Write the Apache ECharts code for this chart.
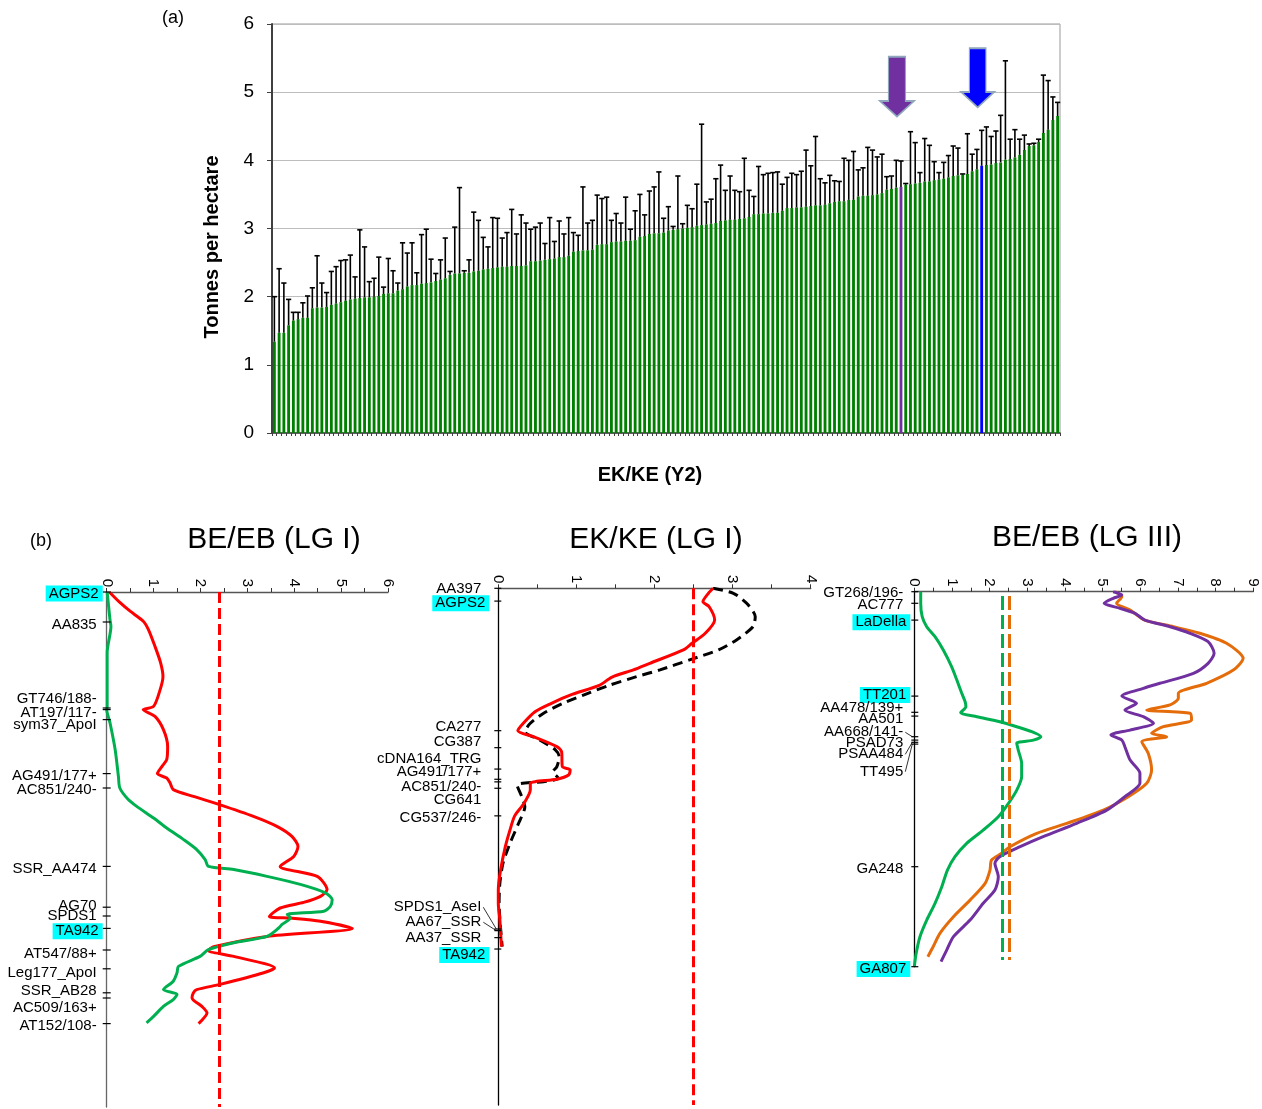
<!DOCTYPE html>
<html>
<head>
<meta charset="utf-8">
<style>
  html, body { margin: 0; padding: 0; background: #fff; }
  #chart { width: 1262px; height: 1109px; }
</style>
<script src="https://cdn.jsdelivr.net/npm/echarts@6/dist/echarts.min.js"></script>
</head>
<body>
<div id="chart"></div>
<script>
const FONT = "'Liberation Sans', Arial, sans-serif";

// ---- (a) EK/KE (Y2) yield, lines sorted by mean ----
const yieldMean = [
  1.34, 1.47, 1.47, 1.58, 1.65, 1.67, 1.69, 1.69, 1.83, 1.84, 1.84, 1.85, 1.88, 1.90, 1.92, 1.94, 1.96,
  1.97, 1.98, 1.99, 1.99, 2.00, 2.01, 2.04, 2.05, 2.05, 2.09, 2.11, 2.15, 2.17, 2.17, 2.19, 2.20, 2.21,
  2.23, 2.25, 2.27, 2.32, 2.34, 2.34, 2.35, 2.35, 2.37, 2.38, 2.40, 2.41, 2.42, 2.43, 2.44, 2.44, 2.45,
  2.45, 2.45, 2.46, 2.52, 2.52, 2.53, 2.54, 2.55, 2.56, 2.58, 2.58, 2.60, 2.66, 2.67, 2.68, 2.68, 2.69,
  2.76, 2.77, 2.77, 2.80, 2.81, 2.81, 2.82, 2.82, 2.83, 2.88, 2.89, 2.92, 2.93, 2.93, 2.94, 2.97, 2.98,
  2.99, 3.00, 3.01, 3.02, 3.04, 3.05, 3.06, 3.07, 3.08, 3.11, 3.12, 3.13, 3.13, 3.14, 3.15, 3.17,
  3.21, 3.21, 3.22, 3.22, 3.23, 3.23, 3.26, 3.30, 3.30, 3.31, 3.31, 3.32, 3.33, 3.34, 3.34, 3.35, 3.37,
  3.39, 3.40, 3.40, 3.42, 3.42, 3.47, 3.48, 3.48, 3.49, 3.50, 3.52, 3.57, 3.58, 3.60, 3.61,
  3.64, 3.65, 3.66, 3.67, 3.69, 3.69, 3.71, 3.72, 3.73, 3.75, 3.77, 3.78, 3.79, 3.80, 3.84, 3.87, 3.92,
  3.93, 3.94, 3.96, 3.97, 4.01, 4.02, 4.04, 4.08, 4.15, 4.21, 4.22, 4.27, 4.40, 4.45, 4.59, 4.65
];
const yieldUpper = [
  2.00, 2.41, 2.20, 1.96, 1.77, 1.77, 1.91, 2.01, 2.13, 2.60, 2.20, 2.06, 2.37, 2.44, 2.53, 2.54, 2.61,
  2.29, 2.98, 2.73, 2.22, 2.27, 2.58, 2.14, 2.56, 2.38, 2.20, 2.79, 2.64, 2.79, 2.35, 2.91, 2.99, 2.55,
  2.34, 2.54, 2.86, 2.37, 3.02, 3.60, 2.38, 2.54, 3.24, 3.12, 2.87, 2.73, 3.16, 3.15, 2.86, 2.94, 3.28,
  2.92, 3.20, 3.08, 2.99, 3.02, 3.08, 2.78, 3.16, 2.81, 3.11, 2.92, 3.16, 2.94, 2.90, 3.61, 3.08, 3.12,
  3.49, 3.44, 3.46, 3.12, 3.22, 3.08, 3.46, 2.99, 3.26, 3.50, 3.20, 3.55, 3.61, 3.83, 3.15, 3.32, 3.03,
  3.77, 3.07, 3.34, 3.29, 3.65, 4.53, 3.39, 3.43, 3.73, 3.93, 3.56, 3.77, 3.56, 3.54, 4.03, 3.56,
  3.47, 3.91, 3.79, 3.81, 3.82, 3.83, 3.65, 3.75, 3.81, 3.79, 3.84, 4.15, 3.92, 4.35, 3.73, 3.67, 3.78,
  3.70, 3.69, 4.03, 4.00, 4.13, 3.86, 3.89, 4.19, 4.15, 4.05, 4.09, 3.76, 3.77, 4.00,
  3.99, 3.66, 4.42, 4.26, 3.82, 4.32, 4.22, 3.98, 3.82, 3.97, 4.07, 4.21, 4.18, 3.80, 4.39, 4.09, 4.16,
  4.44, 4.49, 4.35, 4.43, 4.66, 5.46, 4.31, 4.45, 4.31, 4.37, 4.24, 4.25, 4.31, 5.25, 5.17, 4.93, 4.85
];
const purpleLine = 132;
const blueLine = 149;
const lineNames = yieldMean.map((v, i) => 'L' + (i + 1));

// ---- (b) BE/EB (LG I) ----
const lg1Markers = ['AGPS2', 'AA835', 'GT746/188-', 'AT197/117-', 'sym37_ApoI', 'AG491/177+', 'AC851/240-',
  'SSR_AA474', 'AG70', 'SPDS1', 'TA942', 'AT547/88+', 'Leg177_ApoI', 'SSR_AB28', 'AC509/163+', 'AT152/108-'];
const lg1MarkerPos = [0, 7.5, 29.0, 29.4, 31.9, 45.4, 49.0, 68.6, 78.8, 81.0, 84.1, 89.5, 94.2, 100.2, 101.5, 107.9];
const lg1LabelAt = [0.4, 8.1, 26.7, 30.1, 33.2, 46.0, 49.4, 69.2, 78.5, 81.0, 84.8, 90.4, 95.2, 99.8, 103.9, 108.5];
const lg1RedPos = [0.05, 2.6, 4.8, 7.3, 9.4, 13.6, 17.7, 21.1, 24.4, 28.6, 29.4, 31.1, 34.4, 38.6, 41.9, 43.6,
  45.4, 46.5, 47.7, 49.4, 51.1, 53.1, 56.1, 58.6, 61.1, 63.6, 66.1, 68.6, 71.1, 74.4, 76.1, 77.6, 79.0, 81.1,
  81.5, 82.3, 84.1, 86.1, 88.7, 89.6, 91.1, 94.0, 95.2, 98.1, 99.4, 100.2, 101.5, 103.6, 105.2, 107.9];
const lg1RedLod = [0.06, 0.28, 0.5, 0.78, 0.89, 1.03, 1.15, 1.2, 1.14, 1.0, 0.78, 1.03, 1.21, 1.3, 1.28, 1.18,
  1.08, 1.28, 1.35, 1.42, 1.85, 2.39, 3.13, 3.63, 3.95, 4.08, 3.99, 3.70, 4.49, 4.70, 4.56, 4.2, 3.70, 3.47,
  3.92, 4.56, 5.24, 3.42, 2.28, 2.17, 2.71, 3.58, 3.35, 2.42, 1.92, 1.85, 1.82, 2.03, 2.14, 1.96];
const lg1GreenPos = [0.05, 6.9, 8.6, 15.1, 28.6, 29.4, 32.7, 39.4, 46.1, 49.0, 51.9, 53.6, 56.5, 59.0, 61.9,
  64.4, 66.9, 68.6, 69.4, 71.1, 73.1, 75.2, 76.9, 78.6, 79.8, 80.6, 81.5, 83.1, 84.0, 86.1, 87.7, 89.4, 91.1,
  93.6, 95.2, 97.3, 99.4, 100.6, 101.9, 103.6, 106.1, 107.7];
const lg1GreenLod = [0.01, 0.07, 0.09, 0.01, 0.01, 0.0, 0.07, 0.18, 0.25, 0.28, 0.46, 0.64, 1.0, 1.28, 1.64,
  1.92, 2.10, 2.17, 2.71, 3.42, 4.13, 4.66, 4.81, 4.77, 4.63, 3.85, 3.92, 3.74, 3.67, 3.42, 2.71, 2.17, 1.99,
  1.53, 1.50, 1.42, 1.21, 1.50, 1.42, 1.21, 1.0, 0.85];
const lg1Threshold = 2.4;

// ---- (b) EK/KE (LG I) ----
const lg1bMarkers = ['AA397', 'AGPS2', 'CA277', 'CG387', 'cDNA164_TRG', 'AG491/177+', 'AC851/240-', 'CG641',
  'CG537/246-', 'SPDS1_AseI', 'AA67_SSR', 'AA37_SSR', 'TA942'];
const lg1bMarkerPos = [0, 3.2, 35.6, 39.85, 45.2, 47.75, 48.4, 50.0, 56.9, 85.2, 85.6, 87.35, 90.2];
const lg1bLabelAt = [0.25, 3.75, 34.6, 38.35, 42.7, 46.0, 49.6, 52.9, 57.5, 79.75, 83.5, 87.5, 91.7];
const lg1bRedPos = [0, 1.25, 3.35, 4.6, 7.9, 11.25, 13.75, 15.4, 18.75, 20.4, 22.25, 24.2, 26.7, 28.75, 30.85,
  33.75, 35.6, 37.1, 39.6, 40.85, 44.6, 45.4, 46.7, 47.75, 48.75, 50.4, 53.75, 56.9, 60.4, 64.6, 70.4, 75.4,
  78.75, 82.9, 89.6];
const lg1bRedLod = [2.75, 2.69, 2.62, 2.70, 2.77, 2.65, 2.48, 2.37, 1.94, 1.73, 1.45, 1.30, 0.92, 0.68, 0.47,
  0.32, 0.25, 0.45, 0.75, 0.81, 0.82, 0.92, 0.90, 0.75, 0.41, 0.41, 0.33, 0.21, 0.15, 0.09, 0.03, 0.0, 0.0,
  0.02, 0.04];
const lg1bBlackPos = [0, 1.25, 3.75, 7.1, 9.6, 12.9, 15.4, 17.9, 20.4, 22.1, 24.2, 26.7, 28.75, 31.25, 33.75,
  35.85, 37.9, 40.4, 42.1, 44.6, 45.85, 47.5, 48.35, 49.2, 52.1, 54.6, 58.75, 63.75, 68.75, 73.75, 78.75, 89.6];
const lg1bBlackLod = [2.75, 3.01, 3.18, 3.29, 3.26, 3.05, 2.82, 2.45, 2.07, 1.77, 1.43, 1.09, 0.83, 0.58, 0.41,
  0.34, 0.53, 0.73, 0.78, 0.75, 0.70, 0.77, 0.58, 0.24, 0.30, 0.34, 0.26, 0.15, 0.06, 0.02, 0.01, 0.05];
const lg1bThreshold = 2.49;

// ---- (b) BE/EB (LG III) ----
const lg3Markers = ['GT268/196-', 'AC777', 'LaDella', 'TT201', 'AA478/139+', 'AA501', 'AA668/141-', 'PSAD73',
  'PSAA484', 'TT495', 'GA248', 'GA807'];
const lg3MarkerPos = [0, 2.9, 7.1, 26.1, 30.15, 31.1, 36.25, 37.1, 37.65, 38.1, 68.75, 93.75];
const lg3LabelAt = [0.25, 3.3, 7.65, 25.8, 29.0, 31.9, 35.15, 37.75, 40.65, 45.0, 69.3, 94.3];
const lg3GreenPos = [0, 2.9, 6.25, 8.75, 11.25, 14.6, 18.75, 22.1, 25.4, 27.5, 28.75, 30.25, 31.25, 32.5, 33.75,
  35.0, 36.25, 37.1, 37.9, 39.6, 42.9, 46.25, 49.6, 52.9, 56.25, 59.6, 62.9, 66.25, 69.6, 73.75, 77.9, 82.1,
  86.25, 90.4, 93.75];
const lg3GreenLod = [0.17, 0.17, 0.21, 0.33, 0.55, 0.77, 0.99, 1.13, 1.26, 1.35, 1.37, 1.23, 1.66, 2.27, 2.72,
  3.12, 3.36, 3.16, 2.72, 2.76, 2.85, 2.85, 2.72, 2.50, 2.23, 1.83, 1.39, 1.08, 0.88, 0.73, 0.55, 0.33, 0.15,
  0.05, 0.0];
const lg3PurplePos = [0, 0.8, 1.65, 2.9, 4.15, 5.4, 7.1, 8.75, 10.4, 12.5, 15.4, 17.9, 20.4, 22.9, 24.15, 26.1,
  27.9, 29.6, 31.25, 32.9, 34.6, 35.8, 37.1, 38.75, 42.1, 45.4, 47.9, 51.25, 54.6, 57.9, 61.25, 63.75, 66.25,
  67.9, 71.25, 74.6, 77.9, 82.1, 86.25, 89.6, 92.5];
const lg3PurpleLod = [5.28, 5.51, 5.28, 5.04, 5.46, 5.86, 6.12, 6.79, 7.32, 7.80, 7.96, 7.80, 7.41, 6.52, 6.08,
  5.51, 5.90, 5.59, 6.08, 6.35, 5.73, 5.22, 5.51, 5.59, 5.73, 5.99, 5.99, 5.59, 5.11, 4.31, 3.42, 2.81, 2.27,
  2.14, 2.23, 2.14, 1.83, 1.48, 1.04, 0.86, 0.71];
const lg3OrangePos = [0, 1.25, 2.9, 4.6, 7.1, 8.75, 10.4, 12.9, 16.65, 19.6, 22.9, 25.4, 26.65, 28.3, 29.6,
  30.4, 32.1, 33.75, 35.4, 36.25, 37.5, 40.4, 44.6, 47.9, 51.25, 54.6, 57.9, 60.4, 63.75, 65.4, 67.1, 69.6,
  72.9, 77.1, 81.25, 85.4, 88.75, 91.25];
const lg3OrangeLod = [5.33, 5.51, 5.37, 5.73, 6.12, 6.88, 7.58, 8.29, 8.73, 8.47, 7.76, 7.01, 7.01, 6.79, 6.17,
  7.32, 7.36, 6.61, 6.30, 6.70, 6.04, 6.21, 6.30, 6.17, 5.68, 5.02, 4.05, 3.25, 2.54, 2.32, 2.05, 2.01, 1.88,
  1.48, 1.04, 0.68, 0.50, 0.36];
const lg3ThresholdGreen = 2.34;
const lg3ThresholdOrange = 2.52;

const highlighted = ['AGPS2', 'TA942', 'LaDella', 'TT201', 'GA807'];

const ARROW = 'path://M25,0L75,0L75,74L100,74L50,100L0,74L25,74Z';

function errorBars(params, api) {
  const base = api.coord([api.value(0), api.value(1)]);
  const top = api.coord([api.value(0), api.value(2)]);
  const s = { stroke: '#000', lineWidth: 1.6 };
  return {
    type: 'group',
    children: [
      { type: 'line', shape: { x1: base[0], y1: base[1], x2: top[0], y2: top[1] }, style: s },
      { type: 'line', shape: { x1: top[0] - 2.6, y1: top[1], x2: top[0] + 2.6, y2: top[1] }, style: s }
    ]
  };
}

function markerSeries(idx, names, pos, labelAt, opt) {
  return {
    type: 'custom',
    xAxisIndex: idx,
    yAxisIndex: idx,
    silent: true,
    z: 5,
    data: pos.map((p, i) => [0, p, labelAt[i], i]),
    encode: { x: 0, y: 1 },
    renderItem(params, api) {
      const i = api.value(3);
      const t = api.coord([0, api.value(1)]);
      const l = api.coord([0, api.value(2)]);
      const lx = t[0] - opt.gap;
      const hl = highlighted.includes(names[i]);
      const children = [
        { type: 'line', shape: { x1: t[0] - opt.tl, y1: t[1], x2: t[0] + opt.tr, y2: t[1] },
          style: { stroke: '#000', lineWidth: 1.2 } },
        { type: 'text', x: hl ? lx + opt.hlShift : lx, y: l[1],
          style: { text: names[i], font: '15px ' + FONT, fill: '#000', align: 'right', verticalAlign: 'middle',
                   backgroundColor: hl ? '#00FFFF' : 'transparent', padding: hl ? [1, 4, 0, 3] : 0 } }
      ];
      if (opt.leaders.includes(names[i])) {
        children.push({ type: 'line', shape: { x1: lx + 2, y1: l[1], x2: t[0] - 2, y2: t[1] },
          style: { stroke: '#000', lineWidth: 0.8 } });
      }
      return { type: 'group', children };
    }
  };
}

function curve(idx, pos, lod, color, dash, threshold) {
  const s = {
    type: 'line',
    xAxisIndex: idx,
    yAxisIndex: idx,
    data: pos.map((p, i) => [lod[i], p]),
    showSymbol: false,
    smooth: 0.25,
    silent: true,
    z: 3,
    lineStyle: { color: color, width: 3, type: dash ? [10, 6] : 'solid' }
  };
  if (threshold) {
    s.markLine = {
      silent: true,
      symbol: 'none',
      label: { show: false },
      lineStyle: { color: threshold.color, width: 3, type: threshold.dash },
      data: [[{ coord: [threshold.value, threshold.from] }, { coord: [threshold.value, threshold.to] }]]
    };
  }
  return s;
}

function lodAxis(idx, max) {
  return {
    type: 'value', gridIndex: idx, position: 'top', min: 0, max: max, interval: 1,
    axisLine: { show: true, lineStyle: { color: '#555', width: 1.4 } },
    axisTick: { show: true, length: 4, lineStyle: { color: '#333' } },
    minorTick: { show: true, splitNumber: 2, length: 4, lineStyle: { color: '#333' } },
    splitLine: { show: false },
    axisLabel: { rotate: -90, margin: 5, fontSize: 15, fontFamily: FONT, color: '#000' }
  };
}

function posAxis(idx, max, color) {
  return {
    type: 'value', gridIndex: idx, inverse: true, min: 0, max: max,
    axisLine: { show: true, onZero: false, lineStyle: { color: color, width: 1.3 } },
    axisTick: { show: false },
    axisLabel: { show: false },
    splitLine: { show: false }
  };
}

function caption(text, x, y, font, rotation) {
  return {
    type: 'text', x: x, y: y, rotation: rotation || 0,
    style: { text: text, font: font + ' ' + FONT, fill: '#000', align: 'center', verticalAlign: 'middle' }
  };
}

const chart = echarts.init(document.getElementById('chart'));

chart.setOption({
  animation: false,
  backgroundColor: '#fff',
  grid: [
    { left: 272, top: 24, width: 788, height: 409, show: true, borderColor: '#999', borderWidth: 1,
      containLabel: false, outerBoundsMode: 'none' },
    { left: 106.7, top: 592, width: 281.3, height: 515, containLabel: false, outerBoundsMode: 'none' },
    { left: 498.3, top: 588.3, width: 312.4, height: 516.7, containLabel: false, outerBoundsMode: 'none' },
    { left: 914.3, top: 591.7, width: 339, height: 375, containLabel: false, outerBoundsMode: 'none' }
  ],
  xAxis: [
    {
      type: 'category', gridIndex: 0, data: lineNames,
      axisLine: { lineStyle: { color: '#404040', width: 1.5 } },
      axisTick: { show: true, interval: 0, length: 3, lineStyle: { color: '#404040' } },
      axisLabel: { show: false },
      splitLine: { show: false }
    },
    lodAxis(1, 6),
    lodAxis(2, 4),
    lodAxis(3, 9)
  ],
  yAxis: [
    {
      type: 'value', gridIndex: 0, min: 0, max: 6, interval: 1,
      axisLine: { show: true, lineStyle: { color: '#404040', width: 2 } },
      axisTick: { show: true, length: 5, lineStyle: { color: '#404040' } },
      axisLabel: { fontSize: 19, fontFamily: FONT, color: '#000', margin: 18 },
      splitLine: { show: true, lineStyle: { color: '#bdbdbd', width: 1 } }
    },
    posAxis(1, 128.75, '#666'),
    posAxis(2, 129.2, '#000'),
    posAxis(3, 93.75, '#000')
  ],
  graphic: [
    caption('(a)', 173, 18, '18px'),
    caption('(b)', 41, 541, '18px'),
    caption('Tonnes per hectare', 212, 247, 'bold 20px', Math.PI / 2),
    caption('EK/KE (Y2)', 650, 475, 'bold 20px'),
    caption('BE/EB (LG I)', 274, 540, '30px'),
    caption('EK/KE (LG I)', 656, 540, '30px'),
    caption('BE/EB (LG III)', 1087, 538, '30px')
  ],
  series: [
    {
      type: 'bar',
      xAxisIndex: 0, yAxisIndex: 0,
      barCategoryGap: '40%',
      silent: true,
      data: yieldMean.map((v, i) => {
        if (i === purpleLine) return { value: v, itemStyle: { color: '#7030A0' } };
        if (i === blueLine) return { value: v, itemStyle: { color: '#0000FF' } };
        return v;
      }),
      itemStyle: { color: '#008000' },
      markPoint: {
        silent: true,
        label: { show: false },
        data: [
          { coord: [purpleLine, 5.08], symbol: ARROW, symbolSize: [34, 60], symbolOffset: [-4, 0],
            itemStyle: { color: '#7030A0', borderColor: '#8FA6BC', borderWidth: 1.5 } },
          { coord: [blueLine, 5.21], symbol: ARROW, symbolSize: [33, 59], symbolOffset: [-4, 0],
            itemStyle: { color: '#0000FF', borderColor: '#8FA6BC', borderWidth: 1.5 } }
        ]
      }
    },
    {
      type: 'custom',
      xAxisIndex: 0, yAxisIndex: 0,
      silent: true,
      z: 4,
      data: yieldMean.map((v, i) => [i, v, yieldUpper[i]]),
      encode: { x: 0, y: [1, 2] },
      renderItem: errorBars
    },

    curve(1, lg1RedPos, lg1RedLod, '#FF0000', false,
      { value: lg1Threshold, from: 0, to: 128.75, color: '#FF0000', dash: [11, 5] }),
    curve(1, lg1GreenPos, lg1GreenLod, '#00B050', false),
    markerSeries(1, lg1Markers, lg1MarkerPos, lg1LabelAt, { gap: 10, hlShift: 6, tl: 4, tr: 4, leaders: [] }),

    curve(2, lg1bBlackPos, lg1bBlackLod, '#000', true,
      { value: lg1bThreshold, from: 0, to: 129.2, color: '#FF0000', dash: [11, 5] }),
    curve(2, lg1bRedPos, lg1bRedLod, '#FF0000', false),
    markerSeries(2, lg1bMarkers, lg1bMarkerPos, lg1bLabelAt, { gap: 17, hlShift: 8, tl: 4, tr: 3, leaders: ['SPDS1_AseI', 'AA67_SSR'] }),

    curve(3, lg3GreenPos, lg3GreenLod, '#00B050', false,
      { value: lg3ThresholdGreen, from: 1.1, to: 92.1, color: '#00B050', dash: [14, 5] }),
    curve(3, lg3OrangePos, lg3OrangeLod, '#E46C0A', false,
      { value: lg3ThresholdOrange, from: 1.1, to: 92.1, color: '#E46C0A', dash: [14, 5] }),
    curve(3, lg3PurplePos, lg3PurpleLod, '#7030A0', false),
    markerSeries(3, lg3Markers, lg3MarkerPos, lg3LabelAt, { gap: 11, hlShift: 7, tl: 3, tr: 4, leaders: ['AA668/141-', 'PSAA484', 'TT495'] })
  ]
});
</script>
</body>
</html>
